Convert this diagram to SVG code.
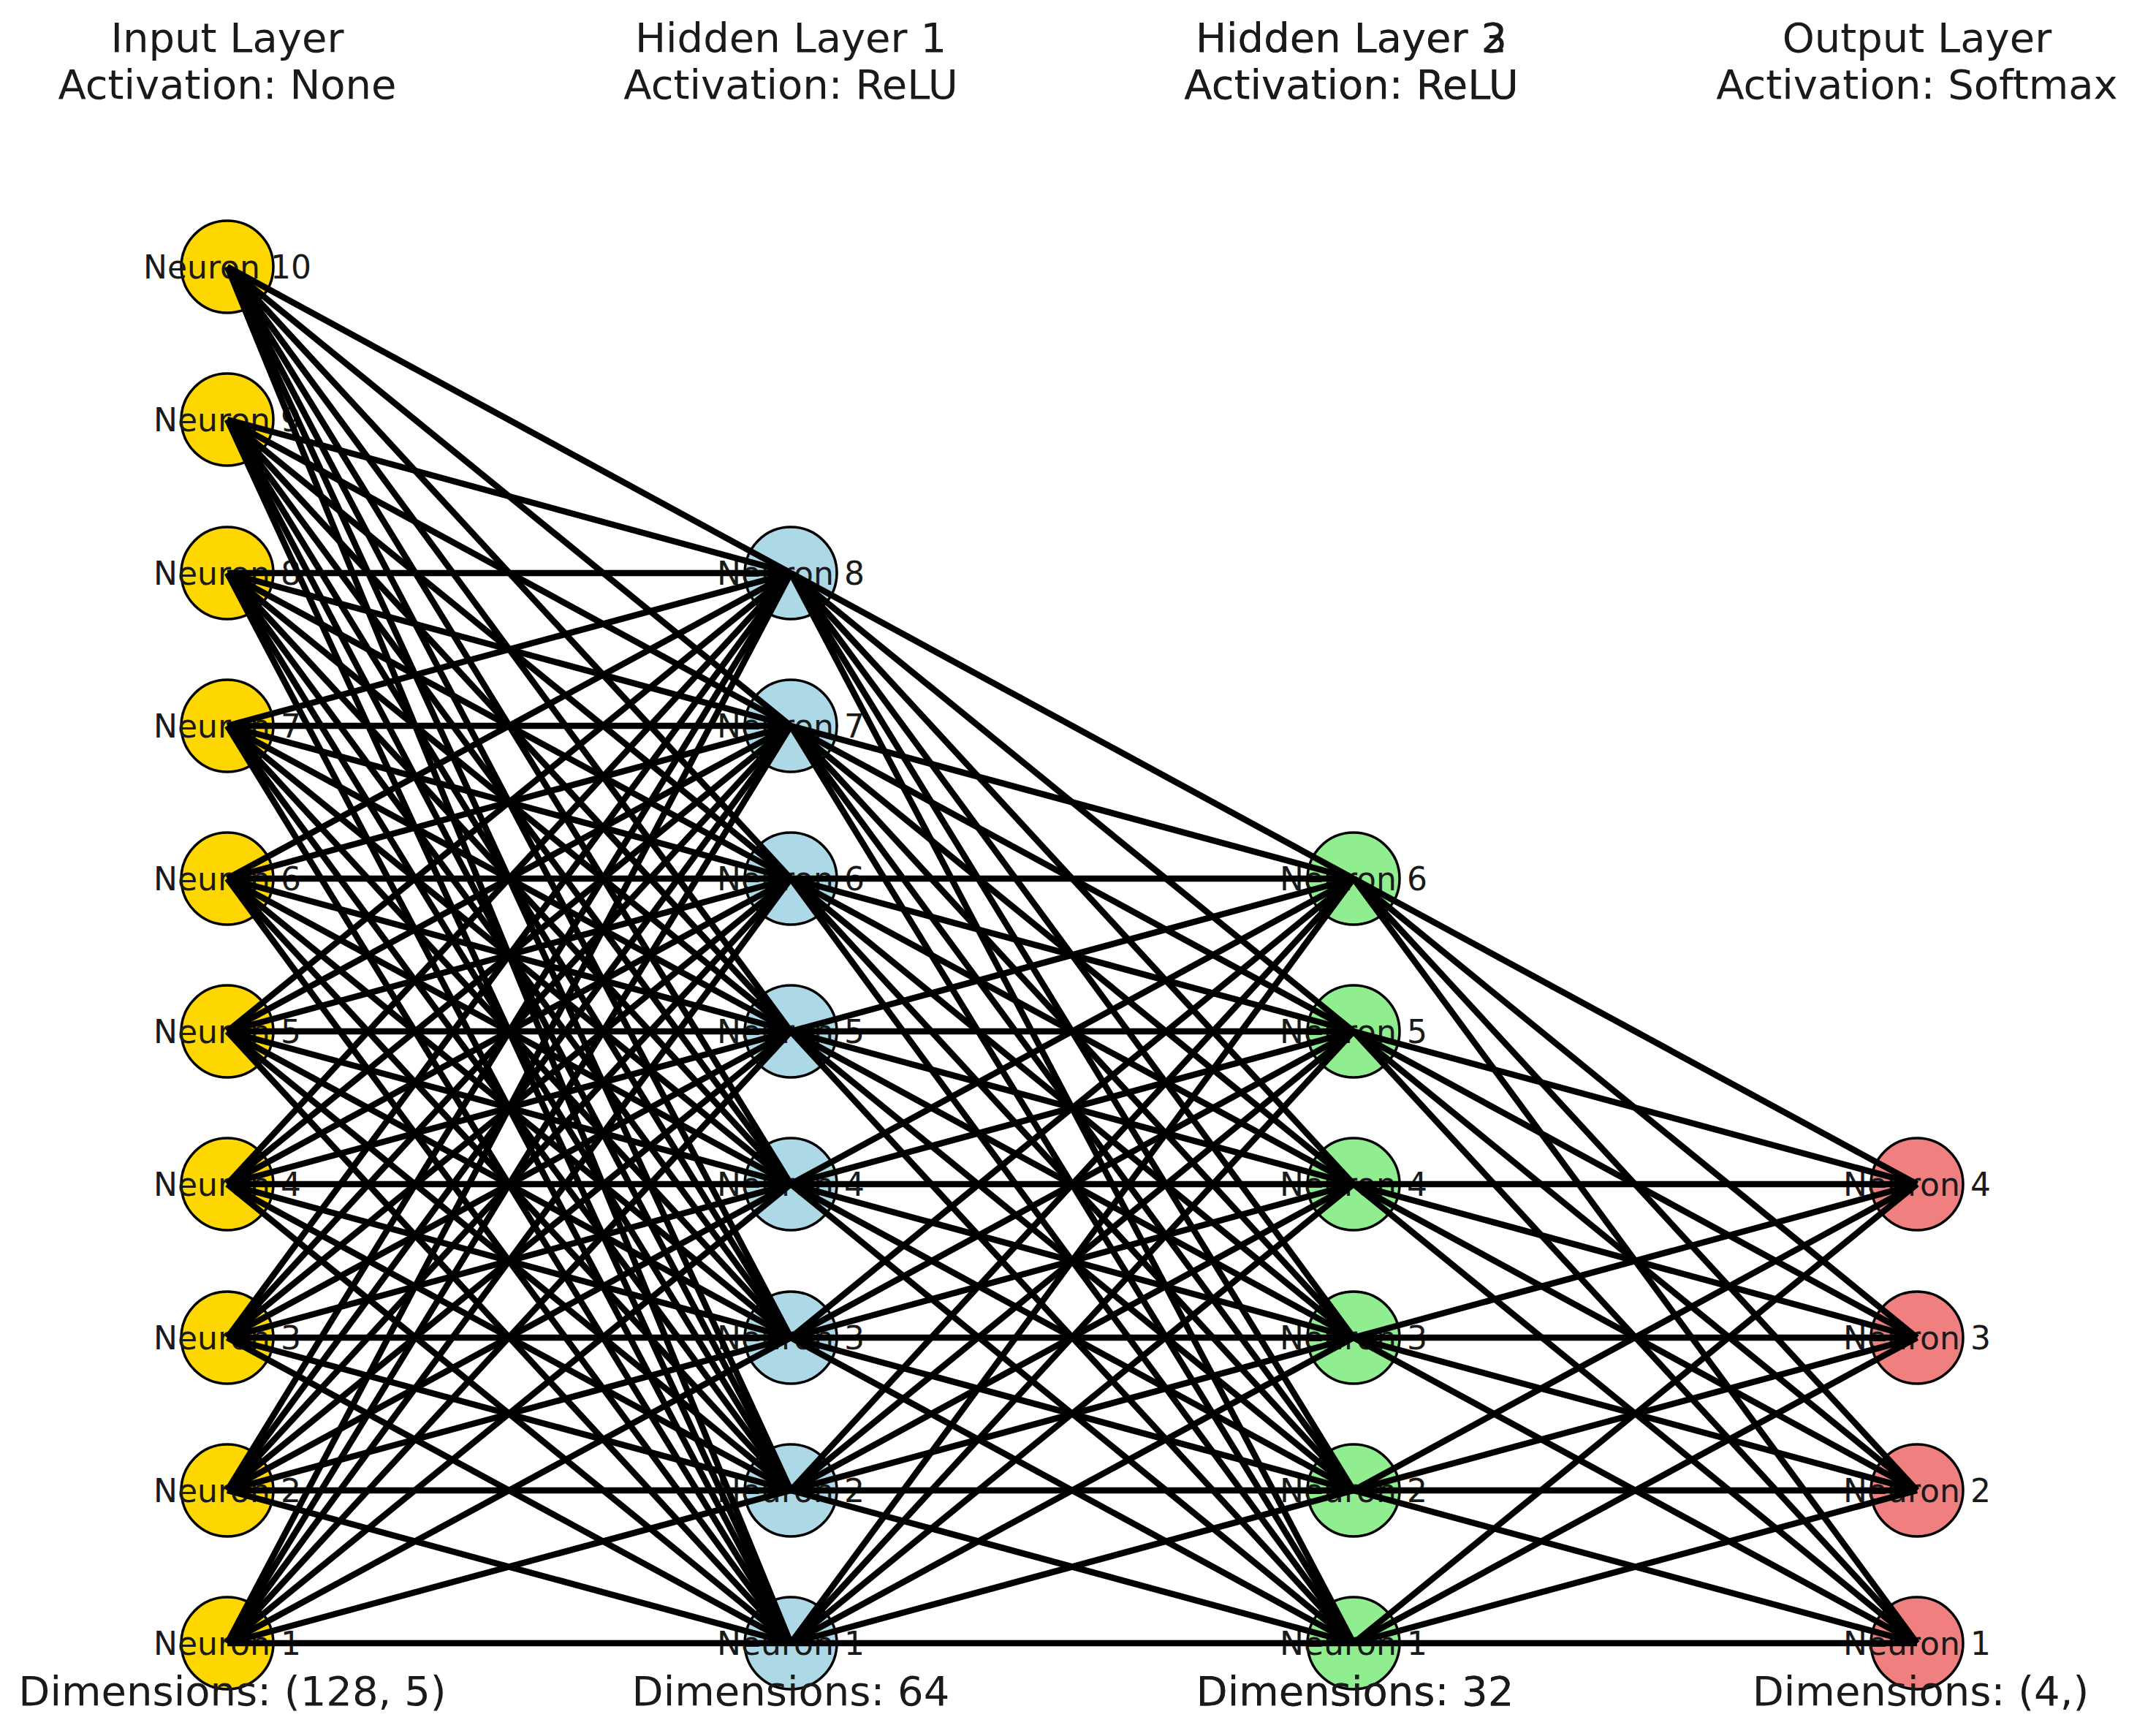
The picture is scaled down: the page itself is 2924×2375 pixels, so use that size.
<svg xmlns="http://www.w3.org/2000/svg" width="2924" height="2375" viewBox="0 0 2924 2375">
<style>
.n{stroke:#000;stroke-width:3.5}
.in{fill:#FFD700}.h1{fill:#ADD8E6}.h2{fill:#90EE90}.out{fill:#F08080}
.lbl{font-family:"DejaVu Sans",sans-serif;font-size:44px;fill:#1a1a1a;text-anchor:middle}
.ttl{font-family:"DejaVu Sans",sans-serif;font-size:56px;fill:#1a1a1a;text-anchor:middle}
#connectors line{stroke:#000;stroke-width:8.5}
</style>
<rect width="2924" height="2375" fill="#fff"/>
<g id="input-layer">
<g id="in10"><circle class="n in" cx="311" cy="365" r="63"/><text class="lbl" x="311" y="381">Neuron 10</text></g>
<g id="in9"><circle class="n in" cx="311" cy="574" r="63"/><text class="lbl" x="311" y="590">Neuron 9</text></g>
<g id="in8"><circle class="n in" cx="311" cy="784" r="63"/><text class="lbl" x="311" y="800">Neuron 8</text></g>
<g id="in7"><circle class="n in" cx="311" cy="993" r="63"/><text class="lbl" x="311" y="1009">Neuron 7</text></g>
<g id="in6"><circle class="n in" cx="311" cy="1202" r="63"/><text class="lbl" x="311" y="1218">Neuron 6</text></g>
<g id="in5"><circle class="n in" cx="311" cy="1411" r="63"/><text class="lbl" x="311" y="1427">Neuron 5</text></g>
<g id="in4"><circle class="n in" cx="311" cy="1620" r="63"/><text class="lbl" x="311" y="1636">Neuron 4</text></g>
<g id="in3"><circle class="n in" cx="311" cy="1830" r="63"/><text class="lbl" x="311" y="1846">Neuron 3</text></g>
<g id="in2"><circle class="n in" cx="311" cy="2039" r="63"/><text class="lbl" x="311" y="2055">Neuron 2</text></g>
<g id="in1"><circle class="n in" cx="311" cy="2248" r="63"/><text class="lbl" x="311" y="2264">Neuron 1</text></g>
</g>
<g id="hidden-layer-1">
<g id="h1n8"><circle class="n h1" cx="1082" cy="784" r="63"/><text class="lbl" x="1082" y="800">Neuron 8</text></g>
<g id="h1n7"><circle class="n h1" cx="1082" cy="993" r="63"/><text class="lbl" x="1082" y="1009">Neuron 7</text></g>
<g id="h1n6"><circle class="n h1" cx="1082" cy="1202" r="63"/><text class="lbl" x="1082" y="1218">Neuron 6</text></g>
<g id="h1n5"><circle class="n h1" cx="1082" cy="1411" r="63"/><text class="lbl" x="1082" y="1427">Neuron 5</text></g>
<g id="h1n4"><circle class="n h1" cx="1082" cy="1620" r="63"/><text class="lbl" x="1082" y="1636">Neuron 4</text></g>
<g id="h1n3"><circle class="n h1" cx="1082" cy="1830" r="63"/><text class="lbl" x="1082" y="1846">Neuron 3</text></g>
<g id="h1n2"><circle class="n h1" cx="1082" cy="2039" r="63"/><text class="lbl" x="1082" y="2055">Neuron 2</text></g>
<g id="h1n1"><circle class="n h1" cx="1082" cy="2248" r="63"/><text class="lbl" x="1082" y="2264">Neuron 1</text></g>
</g>
<g id="hidden-layer-2">
<g id="h2n6"><circle class="n h2" cx="1852" cy="1202" r="63"/><text class="lbl" x="1852" y="1218">Neuron 6</text></g>
<g id="h2n5"><circle class="n h2" cx="1852" cy="1411" r="63"/><text class="lbl" x="1852" y="1427">Neuron 5</text></g>
<g id="h2n4"><circle class="n h2" cx="1852" cy="1620" r="63"/><text class="lbl" x="1852" y="1636">Neuron 4</text></g>
<g id="h2n3"><circle class="n h2" cx="1852" cy="1830" r="63"/><text class="lbl" x="1852" y="1846">Neuron 3</text></g>
<g id="h2n2"><circle class="n h2" cx="1852" cy="2039" r="63"/><text class="lbl" x="1852" y="2055">Neuron 2</text></g>
<g id="h2n1"><circle class="n h2" cx="1852" cy="2248" r="63"/><text class="lbl" x="1852" y="2264">Neuron 1</text></g>
</g>
<g id="output-layer">
<g id="on4"><circle class="n out" cx="2623" cy="1620" r="63"/><text class="lbl" x="2623" y="1636">Neuron 4</text></g>
<g id="on3"><circle class="n out" cx="2623" cy="1830" r="63"/><text class="lbl" x="2623" y="1846">Neuron 3</text></g>
<g id="on2"><circle class="n out" cx="2623" cy="2039" r="63"/><text class="lbl" x="2623" y="2055">Neuron 2</text></g>
<g id="on1"><circle class="n out" cx="2623" cy="2248" r="63"/><text class="lbl" x="2623" y="2264">Neuron 1</text></g>
</g>
<g id="connectors">
<line x1="311" y1="365" x2="1082" y2="784"/><line x1="311" y1="365" x2="1082" y2="993"/><line x1="311" y1="365" x2="1082" y2="1202"/><line x1="311" y1="365" x2="1082" y2="1411"/><line x1="311" y1="365" x2="1082" y2="1620"/><line x1="311" y1="365" x2="1082" y2="1830"/><line x1="311" y1="365" x2="1082" y2="2039"/><line x1="311" y1="365" x2="1082" y2="2248"/>
<line x1="311" y1="574" x2="1082" y2="784"/><line x1="311" y1="574" x2="1082" y2="993"/><line x1="311" y1="574" x2="1082" y2="1202"/><line x1="311" y1="574" x2="1082" y2="1411"/><line x1="311" y1="574" x2="1082" y2="1620"/><line x1="311" y1="574" x2="1082" y2="1830"/><line x1="311" y1="574" x2="1082" y2="2039"/><line x1="311" y1="574" x2="1082" y2="2248"/>
<line x1="311" y1="784" x2="1082" y2="784"/><line x1="311" y1="784" x2="1082" y2="993"/><line x1="311" y1="784" x2="1082" y2="1202"/><line x1="311" y1="784" x2="1082" y2="1411"/><line x1="311" y1="784" x2="1082" y2="1620"/><line x1="311" y1="784" x2="1082" y2="1830"/><line x1="311" y1="784" x2="1082" y2="2039"/><line x1="311" y1="784" x2="1082" y2="2248"/>
<line x1="311" y1="993" x2="1082" y2="784"/><line x1="311" y1="993" x2="1082" y2="993"/><line x1="311" y1="993" x2="1082" y2="1202"/><line x1="311" y1="993" x2="1082" y2="1411"/><line x1="311" y1="993" x2="1082" y2="1620"/><line x1="311" y1="993" x2="1082" y2="1830"/><line x1="311" y1="993" x2="1082" y2="2039"/><line x1="311" y1="993" x2="1082" y2="2248"/>
<line x1="311" y1="1202" x2="1082" y2="784"/><line x1="311" y1="1202" x2="1082" y2="993"/><line x1="311" y1="1202" x2="1082" y2="1202"/><line x1="311" y1="1202" x2="1082" y2="1411"/><line x1="311" y1="1202" x2="1082" y2="1620"/><line x1="311" y1="1202" x2="1082" y2="1830"/><line x1="311" y1="1202" x2="1082" y2="2039"/><line x1="311" y1="1202" x2="1082" y2="2248"/>
<line x1="311" y1="1411" x2="1082" y2="784"/><line x1="311" y1="1411" x2="1082" y2="993"/><line x1="311" y1="1411" x2="1082" y2="1202"/><line x1="311" y1="1411" x2="1082" y2="1411"/><line x1="311" y1="1411" x2="1082" y2="1620"/><line x1="311" y1="1411" x2="1082" y2="1830"/><line x1="311" y1="1411" x2="1082" y2="2039"/><line x1="311" y1="1411" x2="1082" y2="2248"/>
<line x1="311" y1="1620" x2="1082" y2="784"/><line x1="311" y1="1620" x2="1082" y2="993"/><line x1="311" y1="1620" x2="1082" y2="1202"/><line x1="311" y1="1620" x2="1082" y2="1411"/><line x1="311" y1="1620" x2="1082" y2="1620"/><line x1="311" y1="1620" x2="1082" y2="1830"/><line x1="311" y1="1620" x2="1082" y2="2039"/><line x1="311" y1="1620" x2="1082" y2="2248"/>
<line x1="311" y1="1830" x2="1082" y2="784"/><line x1="311" y1="1830" x2="1082" y2="993"/><line x1="311" y1="1830" x2="1082" y2="1202"/><line x1="311" y1="1830" x2="1082" y2="1411"/><line x1="311" y1="1830" x2="1082" y2="1620"/><line x1="311" y1="1830" x2="1082" y2="1830"/><line x1="311" y1="1830" x2="1082" y2="2039"/><line x1="311" y1="1830" x2="1082" y2="2248"/>
<line x1="311" y1="2039" x2="1082" y2="784"/><line x1="311" y1="2039" x2="1082" y2="993"/><line x1="311" y1="2039" x2="1082" y2="1202"/><line x1="311" y1="2039" x2="1082" y2="1411"/><line x1="311" y1="2039" x2="1082" y2="1620"/><line x1="311" y1="2039" x2="1082" y2="1830"/><line x1="311" y1="2039" x2="1082" y2="2039"/><line x1="311" y1="2039" x2="1082" y2="2248"/>
<line x1="311" y1="2248" x2="1082" y2="784"/><line x1="311" y1="2248" x2="1082" y2="993"/><line x1="311" y1="2248" x2="1082" y2="1202"/><line x1="311" y1="2248" x2="1082" y2="1411"/><line x1="311" y1="2248" x2="1082" y2="1620"/><line x1="311" y1="2248" x2="1082" y2="1830"/><line x1="311" y1="2248" x2="1082" y2="2039"/><line x1="311" y1="2248" x2="1082" y2="2248"/>
<line x1="1082" y1="784" x2="1852" y2="1202"/><line x1="1082" y1="784" x2="1852" y2="1411"/><line x1="1082" y1="784" x2="1852" y2="1620"/><line x1="1082" y1="784" x2="1852" y2="1830"/><line x1="1082" y1="784" x2="1852" y2="2039"/><line x1="1082" y1="784" x2="1852" y2="2248"/>
<line x1="1082" y1="993" x2="1852" y2="1202"/><line x1="1082" y1="993" x2="1852" y2="1411"/><line x1="1082" y1="993" x2="1852" y2="1620"/><line x1="1082" y1="993" x2="1852" y2="1830"/><line x1="1082" y1="993" x2="1852" y2="2039"/><line x1="1082" y1="993" x2="1852" y2="2248"/>
<line x1="1082" y1="1202" x2="1852" y2="1202"/><line x1="1082" y1="1202" x2="1852" y2="1411"/><line x1="1082" y1="1202" x2="1852" y2="1620"/><line x1="1082" y1="1202" x2="1852" y2="1830"/><line x1="1082" y1="1202" x2="1852" y2="2039"/><line x1="1082" y1="1202" x2="1852" y2="2248"/>
<line x1="1082" y1="1411" x2="1852" y2="1202"/><line x1="1082" y1="1411" x2="1852" y2="1411"/><line x1="1082" y1="1411" x2="1852" y2="1620"/><line x1="1082" y1="1411" x2="1852" y2="1830"/><line x1="1082" y1="1411" x2="1852" y2="2039"/><line x1="1082" y1="1411" x2="1852" y2="2248"/>
<line x1="1082" y1="1620" x2="1852" y2="1202"/><line x1="1082" y1="1620" x2="1852" y2="1411"/><line x1="1082" y1="1620" x2="1852" y2="1620"/><line x1="1082" y1="1620" x2="1852" y2="1830"/><line x1="1082" y1="1620" x2="1852" y2="2039"/><line x1="1082" y1="1620" x2="1852" y2="2248"/>
<line x1="1082" y1="1830" x2="1852" y2="1202"/><line x1="1082" y1="1830" x2="1852" y2="1411"/><line x1="1082" y1="1830" x2="1852" y2="1620"/><line x1="1082" y1="1830" x2="1852" y2="1830"/><line x1="1082" y1="1830" x2="1852" y2="2039"/><line x1="1082" y1="1830" x2="1852" y2="2248"/>
<line x1="1082" y1="2039" x2="1852" y2="1202"/><line x1="1082" y1="2039" x2="1852" y2="1411"/><line x1="1082" y1="2039" x2="1852" y2="1620"/><line x1="1082" y1="2039" x2="1852" y2="1830"/><line x1="1082" y1="2039" x2="1852" y2="2039"/><line x1="1082" y1="2039" x2="1852" y2="2248"/>
<line x1="1082" y1="2248" x2="1852" y2="1202"/><line x1="1082" y1="2248" x2="1852" y2="1411"/><line x1="1082" y1="2248" x2="1852" y2="1620"/><line x1="1082" y1="2248" x2="1852" y2="1830"/><line x1="1082" y1="2248" x2="1852" y2="2039"/><line x1="1082" y1="2248" x2="1852" y2="2248"/>
<line x1="1852" y1="1202" x2="2623" y2="1620"/><line x1="1852" y1="1202" x2="2623" y2="1830"/><line x1="1852" y1="1202" x2="2623" y2="2039"/><line x1="1852" y1="1202" x2="2623" y2="2248"/>
<line x1="1852" y1="1411" x2="2623" y2="1620"/><line x1="1852" y1="1411" x2="2623" y2="1830"/><line x1="1852" y1="1411" x2="2623" y2="2039"/><line x1="1852" y1="1411" x2="2623" y2="2248"/>
<line x1="1852" y1="1620" x2="2623" y2="1620"/><line x1="1852" y1="1620" x2="2623" y2="1830"/><line x1="1852" y1="1620" x2="2623" y2="2039"/><line x1="1852" y1="1620" x2="2623" y2="2248"/>
<line x1="1852" y1="1830" x2="2623" y2="1620"/><line x1="1852" y1="1830" x2="2623" y2="1830"/><line x1="1852" y1="1830" x2="2623" y2="2039"/><line x1="1852" y1="1830" x2="2623" y2="2248"/>
<line x1="1852" y1="2039" x2="2623" y2="1620"/><line x1="1852" y1="2039" x2="2623" y2="1830"/><line x1="1852" y1="2039" x2="2623" y2="2039"/><line x1="1852" y1="2039" x2="2623" y2="2248"/>
<line x1="1852" y1="2248" x2="2623" y2="1620"/><line x1="1852" y1="2248" x2="2623" y2="1830"/><line x1="1852" y1="2248" x2="2623" y2="2039"/><line x1="1852" y1="2248" x2="2623" y2="2248"/>
</g>
<g id="titles">
<text class="ttl" x="311" y="71">Input Layer</text><text class="ttl" x="311" y="135">Activation: None</text>
<text class="ttl" x="1082" y="71">Hidden Layer 1</text><text class="ttl" x="1082" y="135">Activation: ReLU</text>
<text class="ttl" x="1849" y="71">Hidden Layer 2</text><text class="ttl" x="1849" y="71">Hidden Layer 3</text><text class="ttl" x="1849" y="135">Activation: ReLU</text><text class="ttl" x="1849" y="135">Activation: ReLU</text>
<text class="ttl" x="2623" y="71">Output Layer</text><text class="ttl" x="2623" y="135">Activation: Softmax</text>
</g>
<g id="dimensions">
<text class="ttl" x="318" y="2333">Dimensions: (128, 5)</text>
<text class="ttl" x="1082" y="2333">Dimensions: 64</text>
<text class="ttl" x="1854" y="2333">Dimensions: 32</text><text class="ttl" x="1854" y="2333">Dimensions: 32</text>
<text class="ttl" x="2628" y="2333">Dimensions: (4,)</text>
</g>
</svg>
